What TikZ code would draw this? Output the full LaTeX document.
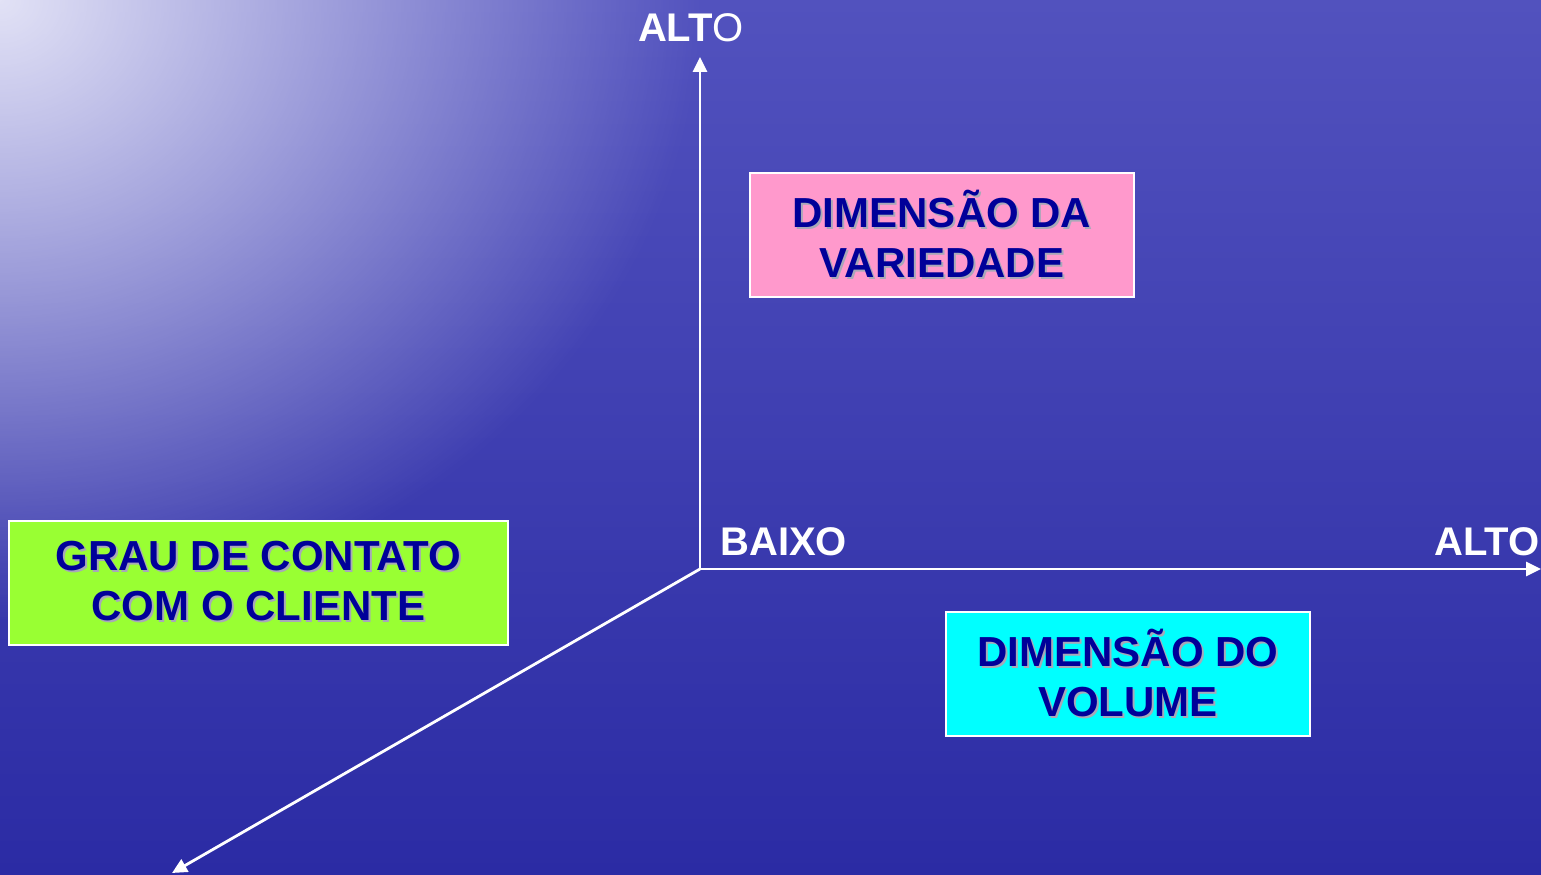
\documentclass[tikz,border=0pt]{standalone}
\usepackage{fontspec}
\setmainfont{Liberation Sans}
\usetikzlibrary{arrows.meta, fadings, positioning}

\definecolor{seaTop}{HTML}{5252BE}
\definecolor{seaDeep}{HTML}{2B2BA4}
\definecolor{seaGlow}{HTML}{E2E2F6}
\definecolor{boxblue}{HTML}{000099}
\definecolor{txtshadow}{HTML}{A8A8B8}
\definecolor{pinkbox}{HTML}{FF99CC}
\definecolor{greenbox}{HTML}{99FF33}
\definecolor{cyanbox}{HTML}{00FFFF}

\tikzfading[name=glow, inner color=transparent!0, outer color=transparent!100]

\newcommand{\shadowed}[1]{\leavevmode\rlap{\hspace{1pt}\raisebox{-1pt}{\textcolor{txtshadow}{#1}}}#1}

\tikzset{
  axis/.style={draw=white, line width=1.4pt, -{Triangle[length=7.5pt,width=7pt]}},
  dimbox/.style={draw=white, line width=1pt, text=boxblue, align=center,
    font=\bfseries\fontsize{21}{25}\selectfont, minimum height=62pt, inner sep=0pt},
  axlabel/.style={text=white, inner sep=0pt, font=\bfseries\fontsize{20}{24}\selectfont},
}

\begin{document}
\begin{tikzpicture}[x=0.5pt, y=0.5pt]
\useasboundingbox (0,0) rectangle (1541,874);

% background
\shade[top color=seaTop, bottom color=seaDeep] (0,0) rectangle (1541,874);
\begin{scope}
\clip (0,0) rectangle (1541,874);
\fill[seaGlow, path fading=glow] (0,874) ellipse (700 and 620);
\end{scope}

% axes
\coordinate (origin) at (700,305);
\coordinate (top-end) at (700,817);
\coordinate (right-end) at (1541,305);
\coordinate (front-end) at (172,1);

\draw[axis] (origin) -- (top-end);
\draw[axis] (origin) -- (right-end);
\draw[axis] (origin) -- (front-end);

\node[axlabel, anchor=base] (alto-top) at (691,832) {ALT\mdseries O};
\node[axlabel, anchor=base west] (baixo) at (720,319) {BAIXO};
\node[axlabel, anchor=base east] (alto-right) at (1540,319) {ALTO};

% boxes
\node[dimbox, fill=pinkbox, minimum width=192pt] (variedade) at (942,639)
  {\shadowed{DIMENSÃO DA}\\\shadowed{VARIEDADE}};
\node[dimbox, fill=greenbox, minimum width=249.5pt] (contato) at (258.5,291.5)
  {\shadowed{GRAU DE CONTATO}\\\shadowed{COM O CLIENTE}};
\node[dimbox, fill=cyanbox, minimum width=182pt] (volume) at (1128,200)
  {\shadowed{DIMENSÃO DO}\\\shadowed{VOLUME}};
\end{tikzpicture}
\end{document}
